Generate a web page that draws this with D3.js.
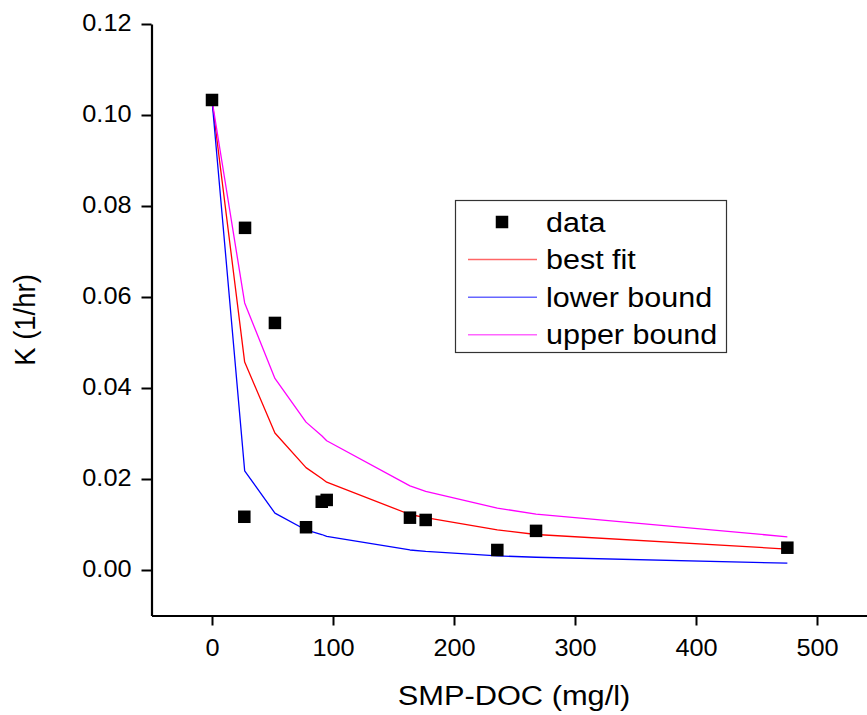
<!DOCTYPE html>
<html>
<head>
<meta charset="utf-8">
<script src="https://cdn.jsdelivr.net/npm/d3@7"></script>
<style>
  html, body { margin: 0; padding: 0; background: #fff; }
  svg { display: block; }
  text { font-family: "Liberation Sans", Arial, Helvetica, sans-serif; fill: #000; }
</style>
</head>
<body>
<svg id="chart" width="867" height="715"></svg>
<script>
// Measured rate constants K (1/hr) against SMP-DOC (mg/l)
const dataX = [0, 26.7, 27.3, 52.0, 77.7, 90.7, 94.8, 163.6, 176.6, 235.8, 267.8, 475.5];
const dataK = [0.1033, 0.0117, 0.0752, 0.0543, 0.0094, 0.0150, 0.0154, 0.0115, 0.0110, 0.0044, 0.0086, 0.0049];

// Fitted curves, evaluated at the measured SMP-DOC values
const curveX     = [0, 27.0, 52.0, 77.7, 90.7, 94.8, 163.6, 176.6, 235.8, 267.8, 475.5];
const bestFit    = [0.1033, 0.0457, 0.0301, 0.0225, 0.0201, 0.0193, 0.0122, 0.0115, 0.0088, 0.0078, 0.0046];
const lowerBound = [0.1033, 0.0218, 0.0125, 0.0088, 0.0078, 0.0074, 0.0044, 0.0041, 0.0031, 0.0028, 0.0015];
const upperBound = [0.1033, 0.0587, 0.0421, 0.0325, 0.0295, 0.0284, 0.0185, 0.0173, 0.0136, 0.0123, 0.0073];

// Axis ticks
const xMajor = [0, 100, 200, 300, 400, 500];
const xMinor = [-50, 50, 150, 250, 350, 450, 550];
const yMajor = [0.00, 0.02, 0.04, 0.06, 0.08, 0.10, 0.12];
const yMinor = [-0.01, 0.01, 0.03, 0.05, 0.07, 0.09, 0.11];

const legendLabels = ["data", "best fit", "lower bound", "upper bound"];
const seriesColors = ["#000000", "#ff0000", "#0000ff", "#ff00ff"];

const svg = d3.select("#chart");

const x = d3.scaleLinear().domain([-50, 550]).range([151.5, 877.5]);
const y = d3.scaleLinear().domain([-0.01, 0.12]).range([615.5, 24]);

const SX = 1.1; // horizontal widening of the lettering

// ---- Axes ----
const gx = svg.append("g").attr("transform", `translate(0,${y(-0.01)})`);
gx.call(d3.axisBottom(x).tickValues(xMinor).tickSize(5).tickSizeOuter(0).tickFormat(""));
gx.call(d3.axisBottom(x).tickValues(xMajor).tickSize(10).tickSizeOuter(0).tickFormat(d3.format("d")));

const gy = svg.append("g").attr("transform", `translate(${x(-50)},0)`);
gy.call(d3.axisLeft(y).tickValues(yMinor).tickSize(5).tickSizeOuter(0).tickFormat(""));
gy.call(d3.axisLeft(y).tickValues(yMajor).tickSize(10).tickSizeOuter(0).tickFormat(d3.format(".2f")));

svg.selectAll(".domain").attr("stroke", "#000").attr("stroke-width", 2.2);
svg.selectAll(".tick line").attr("stroke", "#000").attr("stroke-width", 2);

gx.selectAll(".tick text")
  .attr("x", 0).attr("y", 0).attr("dy", 0)
  .attr("transform", `translate(0,40.5) scale(${SX},1)`)
  .style("font-size", "23px")
  .attr("text-anchor", "middle");

gy.selectAll(".tick text")
  .attr("x", 0).attr("y", 0).attr("dy", "0.28em")
  .attr("transform", `translate(-20,0) scale(${SX},1)`)
  .style("font-size", "23px")
  .attr("text-anchor", "end");

// Axis titles
svg.append("text")
  .attr("transform", `translate(514,705) scale(${SX},1)`)
  .attr("text-anchor", "middle")
  .style("font-size", "28px")
  .text("SMP-DOC (mg/l)");

svg.append("text")
  .attr("transform", `translate(35,320) scale(${SX},1) rotate(-90)`)
  .attr("text-anchor", "middle")
  .style("font-size", "27.5px")
  .text("K (1/hr)");

// ---- Curves ----
const line = d3.line().x((d, i) => x(curveX[i])).y(d => y(d));
[bestFit, lowerBound, upperBound].forEach((series, i) => {
  svg.append("path")
    .datum(series)
    .attr("d", line)
    .attr("fill", "none")
    .attr("stroke", seriesColors[i + 1])
    .attr("stroke-width", 1.3)
    .attr("stroke-linejoin", "round");
});

// ---- Data markers ----
const S = 12.5;
svg.append("g").selectAll("rect")
  .data(dataX)
  .join("rect")
  .attr("x", d => x(d) - S / 2)
  .attr("y", (d, i) => y(dataK[i]) - S / 2)
  .attr("width", S)
  .attr("height", S)
  .attr("fill", "#000");

// ---- Legend ----
const lg = svg.append("g");
lg.append("rect")
  .attr("x", 455.5).attr("y", 200.5)
  .attr("width", 271).attr("height", 152)
  .attr("fill", "#fff").attr("stroke", "#333").attr("stroke-width", 1.2);

legendLabels.forEach((label, i) => {
  const cy = 222 + i * 37.6;
  if (i === 0) {
    lg.append("rect")
      .attr("x", 502 - S / 2).attr("y", cy - S / 2)
      .attr("width", S).attr("height", S)
      .attr("fill", seriesColors[0]);
  } else {
    lg.append("line")
      .attr("x1", 468).attr("x2", 537)
      .attr("y1", cy).attr("y2", cy)
      .attr("stroke", seriesColors[i])
      .attr("stroke-opacity", 0.6)
      .attr("stroke-width", 1.5);
  }
  lg.append("text")
    .attr("transform", `translate(546,${cy + 9.5}) scale(1.09,1)`)
    .style("font-size", "28px")
    .text(label);
});
</script>
</body>
</html>
